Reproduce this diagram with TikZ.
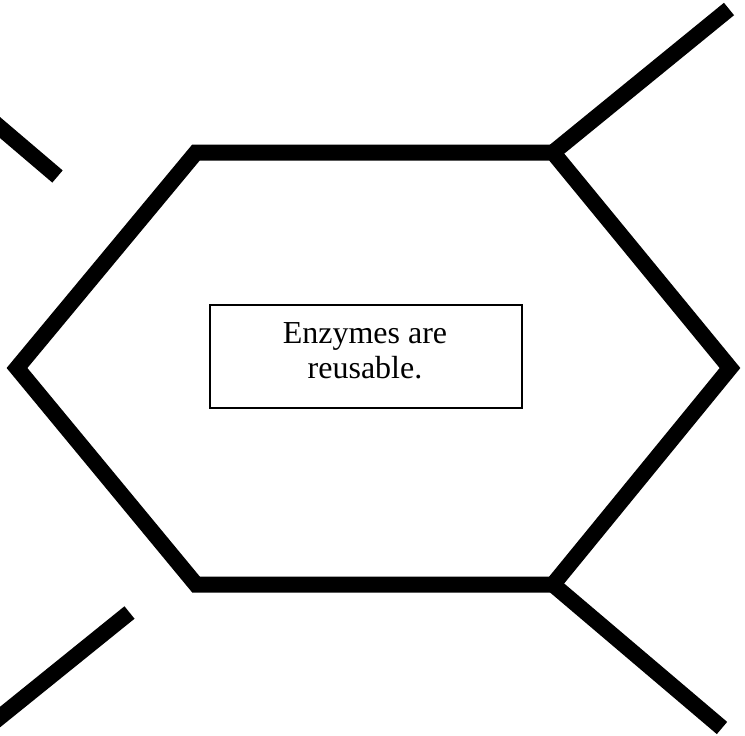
\documentclass[tikz,border=0pt]{standalone}
\usepackage{fontspec}
\setmainfont{Liberation Serif}
\begin{document}
\begin{tikzpicture}[x=1pt,y=-1pt,
  thick line/.style={line width=16pt, line join=miter, line cap=butt, draw=black},
  frame box/.style={draw=black, line width=1.5pt, minimum width=312pt, minimum height=103pt, inner sep=0pt},
  label text/.style={align=center, font=\fontsize{32}{35}\selectfont, inner sep=0pt}]
\useasboundingbox (0,0) rectangle (745,736);
\clip (0,0) rectangle (745,736);
% hexagon vertices
\coordinate (tl) at (196,152.5);
\coordinate (tr) at (553,152.5);
\coordinate (r) at (730,368);
\coordinate (br) at (553,584.5);
\coordinate (bl) at (196,584.5);
\coordinate (l) at (17,368);
% spoke ends
\coordinate (trEnd) at (729,9);
\coordinate (brEnd) at (722,728);
\coordinate (blIn) at (129.5,612.5);
\coordinate (blOut) at (-30,741.3);
\coordinate (tlIn) at (57.5,176.5);
\coordinate (tlOut) at (-30,102);
\draw[thick line] (tl) -- (tr) -- (r) -- (br) -- (bl) -- (l) -- cycle;
\draw[thick line] (tr) -- (trEnd);
\draw[thick line] (br) -- (brEnd);
\draw[thick line] (blIn) -- (blOut);
\draw[thick line] (tlIn) -- (tlOut);
\node[frame box] (box) at (366,356.5) {};
\node[label text] (txt) at (365,351) {Enzymes are\\reusable.};
\end{tikzpicture}
\end{document}
